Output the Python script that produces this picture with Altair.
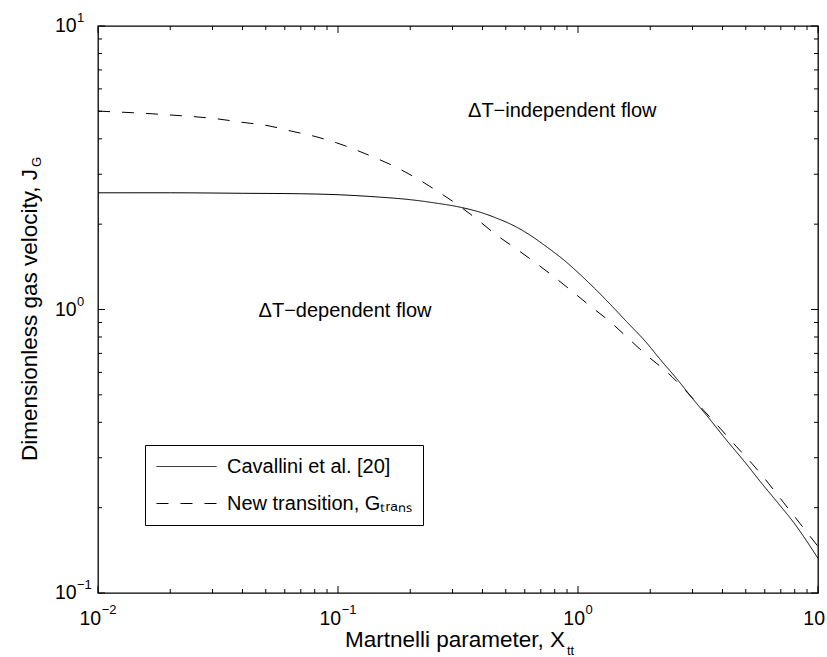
import altair as alt
import pandas as pd

# ---------------- data ----------------
series_names = ["Cavallini et al. [20]", "New transition, Gₜᵣₐₙₛ"]

cav_x = [0.01, 0.02, 0.04, 0.07, 0.1, 0.15, 0.2, 0.25, 0.327, 0.4, 0.458, 0.55,
         0.631, 0.75, 0.869, 1.0, 1.158, 1.36, 1.596, 1.9, 2.197, 2.6, 3.02,
         3.5, 4.17, 5.0, 5.73, 6.8, 7.89, 10.0]
cav_y = [2.58, 2.58, 2.57, 2.56, 2.54, 2.49, 2.44, 2.38, 2.29, 2.19, 2.10, 1.96,
         1.83, 1.65, 1.50, 1.35, 1.20, 1.045, 0.905, 0.775, 0.668, 0.565, 0.482,
         0.415, 0.345, 0.287, 0.248, 0.208, 0.178, 0.1325]

new_x = [0.01, 0.0196, 0.0316, 0.0402, 0.0511, 0.0637, 0.0809, 0.0988, 0.1336,
         0.1728, 0.213, 0.262, 0.327, 0.385, 0.458, 0.537, 0.641, 0.776, 0.912,
         1.122, 1.359, 1.62, 1.963, 2.377, 2.79, 3.33, 3.91, 4.58, 5.37, 6.21,
         7.17, 8.41, 10.0]
new_y = [5.01, 4.86, 4.70, 4.57, 4.45, 4.26, 4.07, 3.87, 3.51,
         3.19, 2.90, 2.60, 2.29, 2.06, 1.83, 1.665, 1.495, 1.324, 1.188,
         1.03, 0.906, 0.791, 0.682, 0.596, 0.520, 0.442, 0.381, 0.328, 0.283, 0.244,
         0.209, 0.176, 0.146]

x_major = [0.01, 0.1, 1.0, 10.0]
x_major_exp = ["−2", "−1", "0", "1"]
y_major = [0.1, 1.0, 10.0]
y_major_exp = ["−1", "0", "1"]

annot_text = ["ΔT−independent flow", "ΔT−dependent flow"]
annot_x = [0.86, 0.107]
annot_y = [4.77, 0.941]

x_title, x_title_sub = "Martnelli parameter, X", "tt"
y_title, y_title_sub = "Dimensionless gas velocity, J", "G"

# ---------------- layout ----------------
W, H = 720, 567
FONT = "Liberation Sans"
LBL = 19.5
EXP = 13
TITLE = 22.5

x_minor = [m * 10.0 ** e for e in (-2, -1, 0) for m in range(2, 10)]
y_minor = [m * 10.0 ** e for e in (-1, 0) for m in range(2, 10)]

xs = alt.Scale(type="log", domain=[0.01, 10], nice=False)
ys = alt.Scale(type="log", domain=[0.1, 10], nice=False)

df_lines = pd.concat([
    pd.DataFrame({"x": cav_x, "y": cav_y, "series": series_names[0]}),
    pd.DataFrame({"x": new_x, "y": new_y, "series": series_names[1]}),
])

lines = alt.Chart(df_lines).mark_line(color="black", strokeWidth=1, interpolate="monotone").encode(
    x=alt.X("x:Q", scale=xs, axis=None),
    y=alt.Y("y:Q", scale=ys, axis=None),
    strokeDash=alt.StrokeDash(
        "series:N",
        scale=alt.Scale(domain=series_names, range=[[1, 0], [12, 12]]),
        legend=alt.Legend(
            title=None, orient="none", legendX=47, legendY=419, direction="vertical",
            fillColor="white", strokeColor="black", padding=11,
            labelFont=FONT, labelFontSize=20, labelColor="black", labelLimit=400,
            labelOffset=30, symbolType="M-3,0H3", symbolSize=400,
            symbolStrokeWidth=1, symbolStrokeColor="black", symbolOffset=20,
            rowPadding=16,
        ),
    ),
)


def xticks(vals, y0, y1):
    return alt.Chart(pd.DataFrame({"x": vals})).mark_rule(color="black", strokeWidth=1).encode(
        x=alt.X("x:Q", scale=xs, axis=None), y=alt.value(y0), y2=alt.value(y1))


def yticks(vals, x0, x1):
    return alt.Chart(pd.DataFrame({"y": vals})).mark_rule(color="black", strokeWidth=1).encode(
        y=alt.Y("y:Q", scale=ys, axis=None), x=alt.value(x0), x2=alt.value(x1))


MAJ, MIN = 7, 4
tick_layers = [
    xticks(x_major, H, H - MAJ), xticks(x_minor, H, H - MIN),
    xticks(x_major, 0, MAJ), xticks(x_minor, 0, MIN),
    yticks(y_major, 0, MAJ), yticks(y_minor, 0, MIN),
    yticks(y_major, W, W - MAJ), yticks(y_minor, W, W - MIN),
]

# x tick labels: "10" with a raised exponent, the pair centred on the tick
cw = {"−": 0.584, "0": 0.556, "1": 0.556, "2": 0.556}
w10 = 1.112 * LBL
xlabel_layers = []
for v, e in zip(x_major, x_major_exp):
    wexp = sum(cw[c] for c in e) * EXP
    total = w10 + 0.5 + wexp
    d = pd.DataFrame({"x": [v], "base": ["10"], "exp": [e]})
    xlabel_layers.append(
        alt.Chart(d).mark_text(font=FONT, fontSize=LBL, align="left", baseline="middle",
                               color="black", dx=-total / 2).encode(
            x=alt.X("x:Q", scale=xs, axis=None), y=alt.value(H + 26), text="base:N"))
    if v < 10:  # the last exponent lies beyond the picture's edge in the reference
        xlabel_layers.append(
            alt.Chart(d).mark_text(font=FONT, fontSize=EXP, align="left", baseline="middle",
                                   color="black", dx=-total / 2 + w10 + 0.5).encode(
                x=alt.X("x:Q", scale=xs, axis=None), y=alt.value(H + 17), text="exp:N"))

df_yl = pd.DataFrame({"y": y_major, "base": ["10"] * len(y_major), "exp": y_major_exp})
yl_base = alt.Chart(df_yl).mark_text(font=FONT, fontSize=LBL, align="left", baseline="middle",
                                     color="black").encode(
    y=alt.Y("y:Q", scale=ys, axis=None), x=alt.value(-43), text="base:N")
yl_exp = alt.Chart(df_yl).mark_text(font=FONT, fontSize=EXP, align="left", baseline="middle",
                                    color="black", dy=-8).encode(
    y=alt.Y("y:Q", scale=ys, axis=None), x=alt.value(-21), text="exp:N")

# annotations inside the plot
df_an = pd.DataFrame({"t": annot_text, "ax": annot_x, "ay": annot_y})
annots = alt.Chart(df_an).mark_text(font=FONT, fontSize=20, align="center", baseline="alphabetic",
                                    color="black").encode(
    x=alt.X("ax:Q", scale=xs, axis=None), y=alt.Y("ay:Q", scale=ys, axis=None), text="t:N")

# axis titles with subscripts
xt = alt.Chart(pd.DataFrame({"t": [x_title]})).mark_text(
    font=FONT, fontSize=TITLE, align="center", baseline="alphabetic", color="black").encode(
    x=alt.value(357), y=alt.value(621), text="t:N")
xt_sub = alt.Chart(pd.DataFrame({"t": [x_title_sub]})).mark_text(
    font=FONT, fontSize=EXP, align="left", baseline="alphabetic", color="black").encode(
    x=alt.value(469), y=alt.value(629), text="t:N")
yt = alt.Chart(pd.DataFrame({"t": [y_title]})).mark_text(
    font=FONT, fontSize=TITLE, align="center", baseline="alphabetic", color="black", angle=270).encode(
    x=alt.value(-61), y=alt.value(289), text="t:N")
yt_sub = alt.Chart(pd.DataFrame({"t": [y_title_sub]})).mark_text(
    font=FONT, fontSize=EXP, align="left", baseline="alphabetic", color="black", angle=270).encode(
    x=alt.value(-57), y=alt.value(141), text="t:N")

chart = alt.layer(
    lines, *tick_layers, *xlabel_layers, yl_base, yl_exp, annots, xt, xt_sub, yt, yt_sub
).properties(
    width=W, height=H,
    padding={"left": 98, "top": 26, "right": 9, "bottom": 64},
    autosize=alt.AutoSizeParams(type="none"),
).configure_view(stroke="black", strokeWidth=1.3)

chart.save("out.html", embed_options={"renderer": "svg", "actions": False})
